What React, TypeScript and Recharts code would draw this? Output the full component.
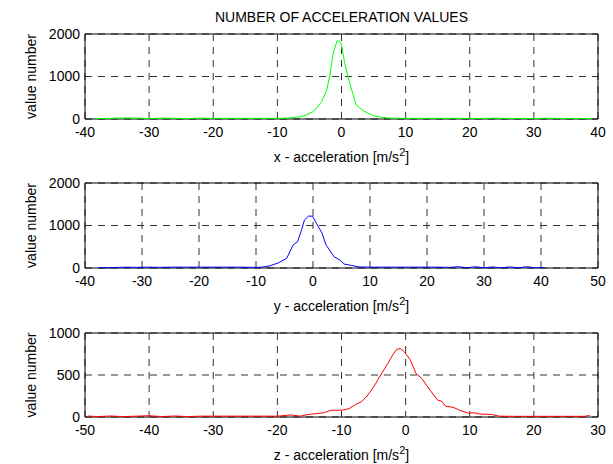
import { LineChart, Line, XAxis, YAxis, CartesianGrid, ReferenceArea } from 'recharts';

const FONT = 'Liberation Sans, Arial, Helvetica, sans-serif';

// x - acceleration histogram
const xAccBins = [
  -38.5, -36, -34, -32, -30, -28, -26, -24, -22, -20, -18, -16, -14, -12, -10, -8.5,
  -7.5, -6.5, -5.5, -4.5, -3.9, -3.1, -2.3, -1.8, -1.3, -0.7, -0.3, 0, 0.5, 1.0, 1.6,
  2.3, 3.4, 4.4, 5.4, 6.4, 7.5, 10, 12, 14, 16, 18, 20, 22, 24, 26, 28, 30, 32, 34, 36, 38, 39,
];
const xAccCounts = [
  10, 15, 25, 20, 10, 20, 15, 10, 20, 15, 15, 15, 15, 15, 15, 20,
  40, 50, 95, 170, 250, 410, 680, 1035, 1545, 1835, 1835, 1740, 1310, 995, 680,
  330, 195, 118, 55, 40, 20, 15, 15, 15, 15, 15, 15, 10, 20, 10, 15, 10, 20, 10, 15, 10, 10,
];

// y - acceleration histogram
const yAccBins = [
  -37.5, -35, -33, -31, -29, -27, -25, -22, -19, -16, -13, -10.1, -9, -7.7, -6, -4.6,
  -3.5, -2.7, -2, -1.5, -0.8, -0.1, 0.6, 1.6, 2.3, 3.7, 4.7, 5.4, 6.75, 8.1, 10, 13,
  16, 19, 22, 24, 25.5, 27, 28.5, 30, 31.5, 33, 34.5, 36, 37.5, 39, 40.5,
];
const yAccCounts = [
  5, 10, 20, 15, 20, 15, 20, 20, 20, 20, 20, 15, 20, 45, 125, 230,
  540, 620, 900, 1130, 1220, 1220, 1050, 815, 540, 265, 190, 95, 60, 25, 20, 20,
  20, 20, 20, 15, 30, 5, 30, 5, 25, 5, 25, 5, 30, 5, 10,
];

// z - acceleration histogram
const zAccBins = [
  -49.6, -48, -46, -44, -42, -40, -38, -36, -34, -32, -30, -28, -26, -24, -22, -20,
  -17.9, -16.4, -15.2, -14, -12.8, -11.6, -10, -8.8, -7.8, -6.9, -6, -4.8, -3.9,
  -2.9, -2, -1.4, -0.8, -0.2, 0.7, 1.6, 2.5, 3.8, 5, 5.6, 6.2, 7.4, 8.6, 9.8,
  10.7, 11.6, 13.4, 14.6, 17, 20, 23, 26, 28, 28.7,
];
const zAccCounts = [
  12, 5, 12, 5, 10, 15, 5, 12, 5, 10, 10, 10, 10, 10, 10, 10,
  24, 10, 30, 40, 50, 80, 80, 100, 150, 180, 250, 380, 500,
  620, 740, 805, 815, 775, 685, 520, 460, 320, 200, 190, 130, 115, 75, 45,
  50, 35, 30, 10, 8, 8, 8, 8, 8, 20,
];

const xTicksA = [-40, -30, -20, -10, 0, 10, 20, 30, 40];
const xTicksB = [-40, -30, -20, -10, 0, 10, 20, 30, 40, 50];
const xTicksC = [-50, -40, -30, -20, -10, 0, 10, 20, 30];
const countTicks2000 = [0, 1000, 2000];
const countTicks1000 = [0, 500, 1000];

const zip = (bins: number[], counts: number[]) =>
  bins.map((b, i) => ({ acc: b, count: counts[i] }));

interface PanelProps {
  top: number;
  plotHeight: number;
  bins: number[];
  counts: number[];
  xTicks: number[];
  yTicks: number[];
  color: string;
  axisName: string;
}

function Panel({ top, plotHeight, bins, counts, xTicks, yTicks, color, axisName }: PanelProps) {
  const data = zip(bins, counts);
  const xMin = xTicks[0];
  const xMax = xTicks[xTicks.length - 1];
  const yMax = yTicks[yTicks.length - 1];
  const tickStyle = { fontSize: 14, fill: '#000', fontFamily: FONT };

  return (
    <div style={{ position: 'absolute', left: 0, top: top - 10 }}>
      <LineChart
        width={613}
        height={10 + plotHeight + 50}
        data={data}
        margin={{ top: 10, right: 15, bottom: 0, left: 0 }}
      >
        <CartesianGrid stroke="#333" strokeDasharray="7 6" />
        <XAxis
          dataKey="acc"
          type="number"
          domain={[xMin, xMax]}
          ticks={xTicks}
          interval={0}
          allowDataOverflow
          height={50}
          tickLine={false}
          axisLine={false}
          tickSize={0}
          tickMargin={8}
          tick={tickStyle}
          label={{
            content: (p: any) => {
              const vb = p.viewBox;
              return (
                <text
                  x={vb.x + vb.width / 2}
                  y={vb.y + 43}
                  textAnchor="middle"
                  fontSize={14}
                  fontFamily={FONT}
                  fill="#000"
                >
                  {axisName} - acceleration [m/s
                  <tspan dy={-6} fontSize={11}>2</tspan>
                  <tspan dy={6}>]</tspan>
                </text>
              );
            },
          }}
        />
        <YAxis
          type="number"
          domain={[0, yMax]}
          ticks={yTicks}
          interval={0}
          width={85}
          tickLine={false}
          axisLine={false}
          tickSize={0}
          tickMargin={5}
          tick={tickStyle}
          label={{
            content: (p: any) => {
              const vb = p.viewBox;
              const cy = vb.y + vb.height / 2;
              return (
                <text
                  x={36}
                  y={cy}
                  transform={`rotate(-90, 36, ${cy})`}
                  textAnchor="middle"
                  fontSize={14}
                  fontFamily={FONT}
                  fill="#000"
                >
                  value number
                </text>
              );
            },
          }}
        />
        <ReferenceArea
          x1={xMin}
          x2={xMax}
          y1={0}
          y2={yMax}
          fill="none"
          stroke="#000"
          strokeWidth={1}
        />
        <Line
          type="linear"
          dataKey="count"
          stroke={color}
          strokeWidth={1}
          dot={false}
          isAnimationActive={false}
        />
      </LineChart>
    </div>
  );
}

export default function App() {
  return (
    <div
      style={{
        position: 'absolute',
        left: 0,
        top: 0,
        width: 613,
        height: 464,
        background: '#fff',
        fontFamily: FONT,
      }}
    >
      <svg width={613} height={30} style={{ position: 'absolute', left: 0, top: 0 }}>
        <text x={341.5} y={22} textAnchor="middle" fontSize={14} fontFamily={FONT} fill="#000">
          NUMBER OF ACCELERATION VALUES
        </text>
      </svg>
      <Panel
        top={34}
        plotHeight={85}
        bins={xAccBins}
        counts={xAccCounts}
        xTicks={xTicksA}
        yTicks={countTicks2000}
        color="#00ff00"
        axisName="x"
      />
      <Panel
        top={183}
        plotHeight={85}
        bins={yAccBins}
        counts={yAccCounts}
        xTicks={xTicksB}
        yTicks={countTicks2000}
        color="#0000ff"
        axisName="y"
      />
      <Panel
        top={333}
        plotHeight={84}
        bins={zAccBins}
        counts={zAccCounts}
        xTicks={xTicksC}
        yTicks={countTicks1000}
        color="#ff0000"
        axisName="z"
      />
    </div>
  );
}
